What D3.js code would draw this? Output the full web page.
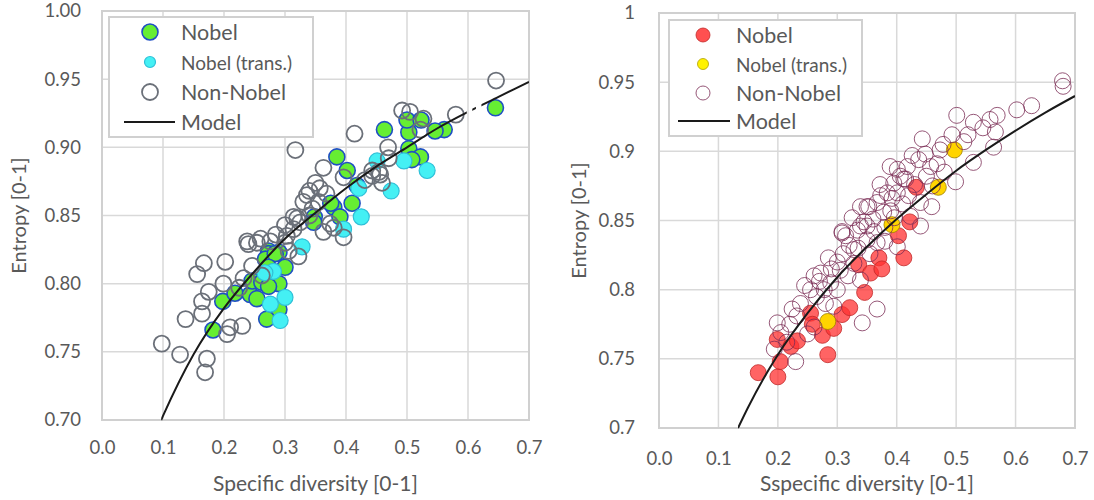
<!DOCTYPE html>
<html><head><meta charset="utf-8">
<script src="https://cdn.jsdelivr.net/npm/d3@7"></script>
<style>
html,body{margin:0;padding:0;background:#fff;}
svg text{font-family:Lato, "Open Sans", sans-serif;fill:#595959;}
</style></head>
<body><svg id="c" width="1094" height="500"></svg>
<script>
// ---------- DATA ----------
const xTicks = [0, 0.1, 0.2, 0.3, 0.4, 0.5, 0.6, 0.7];
const yTicksLeft = [0.70, 0.75, 0.80, 0.85, 0.90, 0.95, 1.00];
const yTickLabelsLeft = ["0.70","0.75","0.80","0.85","0.90","0.95","1.00"];
const yTicksRight = [0.70, 0.75, 0.80, 0.85, 0.90, 0.95, 1.00];
const yTickLabelsRight = ["0.7","0.75","0.8","0.85","0.9","0.95","1"];
const legendLabels = ["Nobel", "Nobel (trans.)", "Non-Nobel", "Model"];

const leftNobel = [[0.645,0.929],[0.561,0.913],[0.546,0.912],[0.503,0.911],[0.500,0.920],[0.523,0.920],[0.463,0.913],[0.503,0.899],[0.522,0.893],[0.508,0.891],[0.385,0.893],[0.402,0.883],[0.418,0.872],[0.410,0.859],[0.380,0.856],[0.390,0.849],[0.375,0.859],[0.348,0.849],[0.347,0.845],[0.273,0.824],[0.290,0.823],[0.182,0.766],[0.198,0.787],[0.218,0.793],[0.243,0.792],[0.254,0.789],[0.273,0.822],[0.268,0.818],[0.284,0.822],[0.300,0.812],[0.273,0.812],[0.246,0.802],[0.262,0.801],[0.290,0.800],[0.273,0.798],[0.290,0.781],[0.270,0.774]];
const leftTrans = [[0.451,0.890],[0.495,0.890],[0.533,0.883],[0.474,0.868],[0.421,0.870],[0.425,0.849],[0.396,0.840],[0.328,0.827],[0.300,0.790],[0.276,0.785],[0.292,0.773],[0.281,0.809],[0.267,0.808]];
const leftNonNobel = [[0.646,0.949],[0.580,0.924],[0.492,0.927],[0.505,0.926],[0.527,0.921],[0.522,0.913],[0.414,0.910],[0.469,0.900],[0.470,0.892],[0.454,0.882],[0.443,0.879],[0.459,0.874],[0.431,0.876],[0.396,0.878],[0.396,0.834],[0.380,0.841],[0.317,0.898],[0.363,0.885],[0.350,0.874],[0.336,0.865],[0.443,0.883],[0.456,0.880],[0.314,0.849],[0.325,0.845],[0.314,0.840],[0.238,0.831],[0.260,0.833],[0.363,0.838],[0.374,0.844],[0.303,0.835],[0.240,0.829],[0.254,0.830],[0.167,0.815],[0.156,0.807],[0.202,0.816],[0.175,0.794],[0.164,0.787],[0.164,0.778],[0.137,0.774],[0.199,0.800],[0.232,0.804],[0.246,0.813],[0.210,0.768],[0.230,0.769],[0.205,0.763],[0.098,0.756],[0.128,0.748],[0.172,0.745],[0.169,0.735],[0.276,0.831],[0.306,0.824],[0.322,0.820],[0.330,0.860],[0.340,0.868],[0.355,0.860],[0.345,0.855],[0.368,0.866],[0.320,0.848],[0.300,0.830],[0.340,0.850],[0.300,0.843],[0.285,0.836],[0.357,0.870],[0.262,0.806],[0.225,0.797]];
const leftModel = [[0.097,0.700],[0.10,0.703],[0.15,0.748],[0.20,0.782],[0.25,0.809],[0.30,0.833],[0.35,0.852],[0.40,0.870],[0.45,0.886],[0.50,0.900],[0.55,0.914],[0.60,0.926],[0.65,0.937],[0.70,0.948]];
const leftModelVisible = [[0.097,0.598],[0.607,0.613],[0.622,0.70]];

const rightNobel = [[0.167,0.740],[0.200,0.737],[0.204,0.748],[0.199,0.764],[0.222,0.759],[0.233,0.763],[0.255,0.783],[0.258,0.775],[0.275,0.767],[0.294,0.772],[0.284,0.753],[0.308,0.782],[0.321,0.787],[0.346,0.798],[0.336,0.818],[0.356,0.812],[0.370,0.823],[0.375,0.815],[0.403,0.839],[0.412,0.823],[0.433,0.874],[0.422,0.849]];
const rightTrans = [[0.284,0.777],[0.392,0.847],[0.497,0.901],[0.470,0.874]];
const rightNonNobel = [[0.199,0.776],[0.194,0.757],[0.230,0.748],[0.224,0.786],[0.238,0.790],[0.255,0.800],[0.261,0.810],[0.272,0.812],[0.289,0.805],[0.300,0.800],[0.294,0.788],[0.261,0.773],[0.342,0.776],[0.308,0.841],[0.314,0.839],[0.334,0.843],[0.350,0.846],[0.328,0.829],[0.350,0.860],[0.367,0.863],[0.384,0.870],[0.395,0.877],[0.406,0.882],[0.350,0.836],[0.367,0.834],[0.328,0.819],[0.305,0.814],[0.339,0.807],[0.367,0.786],[0.401,0.831],[0.415,0.880],[0.679,0.951],[0.680,0.947],[0.627,0.933],[0.602,0.930],[0.569,0.926],[0.557,0.923],[0.529,0.921],[0.501,0.926],[0.493,0.912],[0.443,0.909],[0.566,0.914],[0.563,0.903],[0.529,0.892],[0.499,0.878],[0.513,0.907],[0.473,0.901],[0.426,0.897],[0.437,0.894],[0.457,0.889],[0.468,0.891],[0.389,0.889],[0.401,0.887],[0.412,0.880],[0.459,0.860],[0.440,0.863],[0.401,0.870],[0.373,0.868],[0.353,0.860],[0.339,0.860],[0.378,0.856],[0.423,0.853],[0.440,0.846],[0.308,0.842],[0.339,0.846],[0.270,0.806],[0.280,0.790],[0.310,0.826],[0.320,0.832],[0.300,0.820],[0.360,0.851],[0.380,0.845],[0.390,0.857],[0.410,0.862],[0.420,0.868],[0.430,0.876],[0.450,0.882],[0.460,0.875],[0.480,0.885],[0.245,0.803],[0.220,0.775],[0.215,0.762],[0.250,0.768],[0.335,0.830],[0.355,0.826],[0.380,0.835],[0.290,0.815],[0.265,0.795],[0.345,0.849],[0.285,0.823],[0.318,0.810],[0.362,0.842],[0.392,0.866],[0.418,0.889],[0.448,0.898],[0.478,0.905],[0.520,0.912],[0.545,0.917],[0.232,0.781],[0.205,0.769],[0.278,0.800],[0.325,0.852],[0.372,0.876],[0.396,0.852]];
const rightModel = [[0.133,0.700],[0.15,0.715],[0.20,0.753],[0.25,0.783],[0.30,0.809],[0.35,0.831],[0.40,0.851],[0.45,0.869],[0.50,0.886],[0.55,0.901],[0.60,0.915],[0.65,0.928],[0.70,0.940]];

// ---------- DRAW ----------
const svg = d3.select("#c");

function panel(cfg){
  const g = svg.append("g");
  const x = d3.scaleLinear().domain([0,0.7]).range([cfg.left, cfg.right]);
  const y = d3.scaleLinear().domain([0.7,1.0]).range([cfg.bottom, cfg.top]);
  // grid
  g.append("g").selectAll("line").data(xTicks).join("line")
    .attr("x1",d=>x(d)).attr("x2",d=>x(d)).attr("y1",cfg.top).attr("y2",cfg.bottom)
    .attr("stroke","#d9d9d9").attr("stroke-width",1.5);
  g.append("g").selectAll("line").data(cfg.yTicks).join("line")
    .attr("x1",cfg.left).attr("x2",cfg.right).attr("y1",d=>y(d)).attr("y2",d=>y(d))
    .attr("stroke","#d9d9d9").attr("stroke-width",1.5);
  g.append("rect").attr("x",cfg.left).attr("y",cfg.top).attr("width",cfg.right-cfg.left).attr("height",cfg.bottom-cfg.top)
    .attr("fill","none").attr("stroke","#d0d0d0").attr("stroke-width",2);
  // axes (labels only)
  const ax = g.append("g").attr("transform",`translate(0,${cfg.bottom + cfg.xLabelOff})`)
    .call(d3.axisBottom(x).tickValues(xTicks).tickFormat(d3.format(".1f")).tickSize(0));
  ax.select(".domain").remove();
  ax.selectAll("text").attr("font-size",18.5).attr("fill","#595959").attr("font-family","Lato, sans-serif");
  const ay = g.append("g").attr("transform",`translate(${cfg.left - cfg.yLabelOff},0)`)
    .call(d3.axisLeft(y).tickValues(cfg.yTicks).tickFormat((d,i)=>cfg.yLabels[i]).tickSize(0));
  ay.select(".domain").remove();
  ay.selectAll("text").attr("font-size",18.5).attr("fill","#595959").attr("font-family","Lato, sans-serif");
  // titles
  g.append("text").attr("x",(cfg.left+cfg.right)/2).attr("y",cfg.xTitleY).attr("text-anchor","middle")
    .attr("font-size",21).text(cfg.xTitle);
  g.append("text").attr("transform",`translate(${cfg.yTitleX},${(cfg.top+cfg.bottom)/2}) rotate(-90)`)
    .attr("text-anchor","middle").attr("dominant-baseline","central").attr("font-size",20).text("Entropy [0-1]");
  // points
  const s = cfg.styles;
  [[cfg.nobel,s[0]],[cfg.trans,s[1]],[cfg.non,s[2]]].forEach(([data,st])=>{
    g.append("g").selectAll("circle").data(data).join("circle")
      .attr("cx",d=>x(d[0])).attr("cy",d=>y(d[1])).attr("r",st.r)
      .attr("fill",st.fill).attr("fill-opacity",st.op).attr("stroke",st.stroke).attr("stroke-width",st.sw);
  });
  // model
  const clipId = "clip"+cfg.id;
  const cp = svg.append("clipPath").attr("id",clipId);
  cp.selectAll("rect").data(cfg.visible).join("rect")
    .attr("x",d=>x(d[0])).attr("width",d=>x(d[1])-x(d[0])).attr("y",cfg.top-5).attr("height",cfg.bottom-cfg.top+10);
  const line = d3.line().x(d=>x(d[0])).y(d=>y(d[1])).curve(d3.curveMonotoneX);
  g.append("path").datum(cfg.model).attr("d",line).attr("fill","none").attr("stroke","#1a1a1a").attr("stroke-width",2)
    .attr("clip-path",`url(#${clipId})`);
  // legend
  const L = cfg.legend;
  const lg = g.append("g");
  lg.append("rect").attr("x",L.x).attr("y",L.y).attr("width",L.w).attr("height",L.h)
    .attr("fill","#fff").attr("stroke","#d0d0d0").attr("stroke-width",2);
  const rows = L.rows;
  [0,1,2].forEach(i=>{
    const st = Object.assign({}, s[i], (L.override||[])[i] || {});
    lg.append("circle").attr("cx",L.mx).attr("cy",rows[i]).attr("r",L.mr[i])
      .attr("fill",st.fill).attr("fill-opacity",st.op).attr("stroke",st.stroke).attr("stroke-width",st.sw);
  });
  lg.append("line").attr("x1",L.lx1).attr("x2",L.lx2).attr("y1",rows[3]).attr("y2",rows[3]).attr("stroke","#1a1a1a").attr("stroke-width",2);
  legendLabels.forEach((t,i)=>{
    lg.append("text").attr("x",L.tx).attr("y",rows[i]).attr("dominant-baseline","central")
      .attr("font-size", i===1 ? 19 : 21.5).text(t);
  });
}

panel({id:"L", left:102, right:529, top:11, bottom:420, yTicks:yTicksLeft, yLabels:yTickLabelsLeft,
  xLabelOff:18, yLabelOff:18, xTitleY:491, xTitle:"Specific diversity [0-1]", yTitleX:18,
  nobel:leftNobel, trans:leftTrans, non:leftNonNobel, model:leftModel, visible:leftModelVisible,
  styles:[{r:8,fill:"#66ee33",op:1,stroke:"#1f4fc4",sw:1.6},{r:8,fill:"#44f0f4",op:1,stroke:"#2fc0d8",sw:1.2},{r:8,fill:"none",op:0,stroke:"#6b7079",sw:1.8}],
  legend:{x:109,y:17,w:204,h:120,mx:150,tx:181,lx1:124,lx2:175,rows:[32,62,92,122],mr:[8,5.5,8]}});

panel({id:"R", left:659, right:1075, top:13, bottom:428, yTicks:yTicksRight, yLabels:yTickLabelsRight,
  xLabelOff:21, yLabelOff:21, xTitleY:491, xTitle:"Sspecific diversity [0-1]", yTitleX:578,
  nobel:rightNobel, trans:rightTrans, non:rightNonNobel, model:rightModel, visible:[[0.133,0.70]],
  styles:[{r:8,fill:"#ff3030",op:0.75,stroke:"#c02828",sw:0.8},{r:8,fill:"#ffd400",op:1,stroke:"#a08000",sw:0.8},{r:8,fill:"none",op:0,stroke:"#7b2d55",sw:0.8}],
  legend:{x:669,y:20,w:193,h:116,mx:703,tx:736,lx1:678,lx2:730,rows:[35,64,93,121],mr:[7,5.5,7],
    override:[{fill:"#ff5050",op:1},{fill:"#fff200",stroke:"#b0a000"},{}]}});
</script></body></html>
